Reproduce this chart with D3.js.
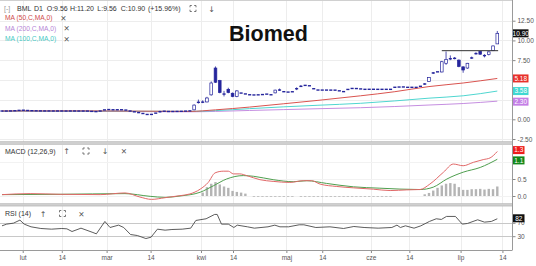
<!DOCTYPE html>
<html><head><meta charset="utf-8">
<script src="https://cdn.jsdelivr.net/npm/d3@7"></script>
<style>
html,body{margin:0;padding:0;background:#fff;overflow:hidden;}
svg{display:block;font-family:"Liberation Sans",Arial,sans-serif;}
</style></head><body>
<svg id="c" width="536" height="266"></svg>
<script>
// ---------------- DATA ----------------
const ticker = "BML", interval = "D1";
const title = "Biomed";
const changePct = "+15.96%";
const open = [
1.05,1.05,1.05,1.07,1.10,1.17,1.13,1.10,1.08,1.07,
1.06,1.06,1.06,1.05,1.06,1.05,1.05,1.06,1.05,1.05,
1.05,1.04,0.97,0.98,1.12,1.27,1.20,1.22,1.20,1.22,
1.10,1.00,0.90,0.80,0.67,0.56,0.70,0.88,1.05,1.00,
0.98,1.00,1.00,1.02,1.05,1.20,2.10,2.20,2.20,3.10,
6.50,4.90,3.10,3.80,3.30,2.90,3.35,3.28,3.12,3.05,
3.10,3.12,3.18,3.12,3.35,3.70,3.55,3.45,3.48,3.75,
4.15,4.35,4.30,3.90,3.72,3.70,3.71,3.70,3.70,3.62,
3.52,3.75,3.90,3.90,3.85,3.80,3.80,3.81,3.80,3.80,
3.80,3.80,4.00,4.10,4.10,4.05,4.06,4.05,4.15,4.40,
4.80,5.80,6.05,6.00,7.10,7.60,7.75,7.50,6.65,6.50,
7.70,8.25,8.60,8.20,8.20,8.70,9.56];
const high = [
1.06,1.06,1.08,1.12,1.18,1.18,1.14,1.11,1.09,1.08,
1.07,1.07,1.07,1.07,1.07,1.06,1.07,1.07,1.06,1.06,
1.06,1.05,1.00,1.15,1.30,1.29,1.24,1.24,1.25,1.23,
1.12,1.02,0.92,0.82,0.70,0.70,0.88,1.08,1.06,1.02,
1.02,1.02,1.04,1.06,1.10,1.90,2.50,2.40,2.85,4.80,
6.70,5.00,3.60,4.00,3.40,3.70,3.40,3.30,3.15,3.15,
3.20,3.18,3.22,3.15,3.75,3.90,3.60,3.50,3.52,4.05,
4.35,4.40,4.32,3.92,3.75,3.74,3.73,3.72,3.72,3.65,
3.55,3.85,3.95,3.95,3.88,3.83,3.83,3.83,3.82,3.82,
3.82,3.82,4.15,4.12,4.13,4.08,4.08,4.08,4.25,4.60,
5.35,6.00,6.10,7.40,8.60,8.10,7.90,7.60,6.70,7.15,
7.95,8.50,8.65,8.25,8.60,9.35,11.20];
const low = [
1.04,1.04,1.04,1.06,1.09,1.12,1.09,1.07,1.06,1.05,
1.05,1.05,1.04,1.04,1.04,1.04,1.04,1.04,1.04,1.04,
1.03,0.96,0.94,0.98,1.11,1.18,1.17,1.18,1.19,1.10,
0.98,0.88,0.78,0.65,0.52,0.55,0.68,0.86,0.98,0.96,
0.97,0.98,0.99,1.00,1.03,1.15,2.00,2.05,2.15,3.00,
4.60,3.30,2.90,3.30,2.80,2.80,3.25,3.10,3.05,3.02,
3.05,3.10,3.15,3.05,3.30,3.60,3.40,3.40,3.45,3.70,
4.10,4.20,4.15,3.80,3.65,3.68,3.67,3.67,3.66,3.58,
3.48,3.72,3.85,3.86,3.82,3.77,3.77,3.78,3.77,3.77,
3.77,3.77,3.98,4.05,4.07,4.02,4.02,4.02,4.12,4.35,
4.75,5.75,5.90,5.95,6.90,7.50,7.60,6.60,5.90,6.40,
7.65,8.20,8.20,7.85,8.10,8.65,9.56];
const close = [
1.05,1.05,1.07,1.10,1.16,1.13,1.10,1.08,1.07,1.06,
1.06,1.06,1.05,1.06,1.05,1.05,1.06,1.05,1.05,1.05,
1.04,0.97,0.98,1.12,1.26,1.20,1.22,1.20,1.22,1.12,
1.00,0.90,0.80,0.67,0.56,0.68,0.86,1.05,1.00,0.98,
1.00,1.00,1.02,1.05,1.08,1.80,2.20,2.15,2.70,4.60,
4.70,3.40,3.30,3.40,2.90,3.60,3.30,3.15,3.10,3.12,
3.10,3.15,3.20,3.10,3.70,3.72,3.45,3.45,3.50,4.00,
4.20,4.25,4.20,3.85,3.70,3.71,3.70,3.70,3.69,3.60,
3.50,3.82,3.92,3.90,3.85,3.80,3.81,3.80,3.80,3.80,
3.80,3.80,4.12,4.08,4.10,4.06,4.05,4.05,4.22,4.55,
5.30,5.95,5.98,7.30,7.60,7.75,7.70,6.70,6.25,7.10,
7.85,8.40,8.25,7.95,8.55,9.30,10.90];

// moving averages read at sample bars [barIndex, value]
const ma50  = [[0,1.06],[20,1.07],[44,1.00],[50,1.20],[58,1.55],[66,1.97],[74,2.40],[84,2.98],[92,3.50],[100,4.15],[108,4.60],[116,5.18]];
const ma100 = [[0,1.04],[20,1.04],[44,1.00],[50,1.10],[58,1.35],[66,1.58],[74,1.78],[84,2.03],[92,2.33],[100,2.68],[108,2.98],[116,3.58]];
const ma200 = [[0,1.00],[20,1.00],[44,0.95],[50,1.00],[58,1.12],[66,1.23],[74,1.34],[84,1.47],[92,1.62],[100,1.81],[108,2.00],[116,2.30]];
const trendLevel = 8.70, trendFrom = 103, trendTo = 116.2;

// MACD (12,26,9)
const macdLine = [[0,0.04],[6.6,0.07],[13.6,0.05],[23,0.04],[28.8,0.09],[32.3,-0.03],[35,-0.10],[38.2,-0.05],[41.7,0.01],[44,0.06],[46.4,0.20],[48.3,0.40],[49.9,0.68],[51.8,0.73],[53,0.73],[54.2,0.65],[55.7,0.65],[57.3,0.60],[60.4,0.48],[63.5,0.43],[67.4,0.40],[70.6,0.45],[72.5,0.45],[74.5,0.35],[78.4,0.28],[82.3,0.24],[87,0.20],[90.9,0.16],[94.8,0.18],[97.9,0.19],[100.2,0.35],[103.4,0.70],[105.7,0.94],[108,0.89],[110.4,0.99],[112.7,1.07],[114.3,1.12],[116,1.31]];
const signalLine = [[0,0.04],[13.6,0.05],[28.8,0.07],[34.7,-0.01],[38.2,-0.04],[41.7,0.00],[46.4,0.11],[49.5,0.30],[52.6,0.50],[56.5,0.60],[58.9,0.58],[63.5,0.48],[68.2,0.42],[71.4,0.45],[76,0.37],[82.3,0.27],[88.5,0.23],[97.9,0.19],[101,0.26],[104.2,0.50],[108,0.70],[112,0.84],[116,1.08]];
const histogram = [
0,0,0,0,0,0,0,0,0,0, 0,0,0,0,0,0,0,0,0,0,
0,0,0,0,0,0,0,0,0,0, 0,0,0,0,0,0,0,0,0,0,
0,0,0,0,0,0,0,0.10,0.26,0.36,
0.41,0.34,0.28,0.24,0.15,0.12,0.10,0.07,0,-0.025,
-0.025,-0.025,-0.025,-0.025,-0.025,-0.025,-0.025,-0.025,-0.025,0,
-0.025,-0.025,-0.025,-0.025,-0.025,-0.025,-0.025,-0.025,-0.025,-0.025,
-0.025,-0.025,-0.025,-0.025,-0.025,-0.025,-0.025,-0.025,-0.025,-0.025,
-0.025,-0.025,0,0,0,0,0,0,0,0.05,
0.09,0.16,0.24,0.31,0.36,0.38,0.36,0.26,0.18,0.18,
0.20,0.20,0.21,0.19,0.21,0.20,0.28];
const macdLast = 1.3, signalLast = 1.1;

// RSI (14)
const rsi = [[0,61],[1.1,66],[2.7,69],[4.2,78],[5.2,66],[6.8,58],[9.1,53],[11.6,51],[14,53],[15.2,52],[16.4,44],[18.5,54],[21.3,41],[22.1,37],[24.1,74],[25.3,56],[27.3,63],[28.5,56],[30.1,35],[31.7,32],[33.7,23],[34.9,27],[36.4,51],[38.2,48],[39.8,50],[42.2,51],[44.2,54],[45.4,77],[47.8,82],[49.8,95],[50.4,95],[51.4,66],[53,66],[54.3,56],[55.1,63],[57.5,58],[59.1,54],[62.3,58],[63.9,63],[65.1,58],[67.1,58],[69.6,64],[70.7,64],[73.5,56],[76.8,58],[80,53],[82.4,59],[84.8,56],[88.1,54],[91.3,56],[92.5,63],[93.3,56],[94.5,61],[96.5,54],[98.1,61],[100.1,74],[101.7,82],[102.9,80],[104.1,89],[106.2,89],[107.8,66],[109,68],[111.4,79],[113,72],[114.6,74],[116,82]];
const rsiLast = 82;

// axes (labels that the value boxes cover in the reference are listed without text)
const priceTicks = [-2.5,0,2.5,5,7.5,10,12.5];
const priceTickLabels = ["-2.50","0.00","","","7.50","10.00","12.50"];
const macdTicks = [0,0.5,1.0];
const macdTickLabels = ["0.0","0.5",""];
const rsiTicks = [30,70];
const rsiTickLabels = ["30","70"];
const dateTickBars = [4.85,14,24.5,34.8,46.6,54.1,66.6,75,86.4,95.4,107.4,117.2];
const dateTickLabels = ["lut","14","mar","14","kwi","14","maj","14","cze","14","lip","14"];
const maLabels = ["MA (50,C,MA,0)","MA (200,C,MA,0)","MA (100,C,MA,0)"];
const maLast = [5.18,2.30,3.58];

// ---------------- DRAW ----------------
const svg = d3.select('#c');
const AX = 512.5;
const P1 = [0,141.5], P2 = [144.5,203.5], P3 = [206,250];
const x = d3.scaleLinear().domain([0,116]).range([2,497.3]);
const yP = d3.scaleLinear().domain([0,12.5]).range([119.3,20.7]);
const yM = d3.scaleLinear().domain([0,0.5]).range([196,179]);
const yR = d3.scaleLinear().domain([30,70]).range([236.2,222.8]);
const navy = '#25259c';
const colMA50 = '#d9534f', colMA100 = '#4fd6d0', colMA200 = '#c58ee0';

const defs = svg.append('defs');
[['c1',P1],['c2',P2],['c3',P3]].forEach(([id,p])=>{
  defs.append('clipPath').attr('id',id).append('rect').attr('x',0).attr('y',p[0]).attr('width',AX).attr('height',p[1]-p[0]);
});

// grid
const grid = svg.append('g').attr('stroke','#ededed').attr('stroke-width',1).attr('shape-rendering','crispEdges');
[P1,P2,P3].forEach(p=>{
  dateTickBars.forEach(b=>{
    grid.append('line').attr('x1',Math.round(x(b))+0.5).attr('x2',Math.round(x(b))+0.5).attr('y1',p[0]).attr('y2',p[1]);
  });
});
priceTicks.forEach(t=>grid.append('line').attr('x1',0).attr('x2',AX).attr('y1',Math.round(yP(t))+0.5).attr('y2',Math.round(yP(t))+0.5));
macdTicks.forEach(t=>grid.append('line').attr('x1',0).attr('x2',AX).attr('y1',Math.round(yM(t))+0.5).attr('y2',Math.round(yM(t))+0.5).attr('stroke','#f2f2f2'));
rsiTicks.forEach(t=>grid.append('line').attr('x1',0).attr('x2',AX).attr('y1',Math.round(yR(t))+0.5).attr('y2',Math.round(yR(t))+0.5).attr('stroke','#c8c8c8'));

svg.append('line').attr('x1',0).attr('x2',AX).attr('y1',0.5).attr('y2',0.5).attr('stroke','#d0d0d0');

// ---- main panel ----
const gMain = svg.append('g').attr('clip-path','url(#c1)');
const lineP = d3.line().x(d=>x(d[0])).y(d=>yP(d[1])).curve(d3.curveMonotoneX);
[[ma200,colMA200],[ma100,colMA100],[ma50,colMA50]].forEach(([d,c])=>{
  gMain.append('path').datum(d).attr('d',lineP).attr('fill','none').attr('stroke',c).attr('stroke-width',1);
});

const bars = d3.range(open.length);
const bw = 2.7;
const bodyH = i => yP(Math.min(open[i],close[i])) - yP(Math.max(open[i],close[i]));
const cg = gMain.append('g');
cg.selectAll('line').data(bars.filter(i=>yP(low[i])-yP(high[i])>1.6)).join('line')
  .attr('x1',i=>x(i)).attr('x2',i=>x(i))
  .attr('y1',i=>yP(high[i])).attr('y2',i=>yP(low[i]))
  .attr('stroke',navy).attr('stroke-width',0.8);
// small bodies: plain dashes
cg.selectAll('rect.s').data(bars.filter(i=>bodyH(i)<2)).join('rect').attr('class','s')
  .attr('x',i=>x(i)-bw/2-0.2).attr('width',bw+0.4)
  .attr('y',i=>(yP(open[i])+yP(close[i]))/2-0.7).attr('height',1.4)
  .attr('fill',navy);
// larger bodies
cg.selectAll('rect.b').data(bars.filter(i=>bodyH(i)>=2)).join('rect').attr('class','b')
  .attr('x',i=>x(i)-bw/2).attr('width',bw)
  .attr('y',i=>yP(Math.max(open[i],close[i]))).attr('height',i=>bodyH(i))
  .attr('fill',i=>close[i]>=open[i]?'#fff':navy)
  .attr('stroke',navy).attr('stroke-width',0.7);

gMain.append('line').attr('x1',x(trendFrom)).attr('x2',x(trendTo)).attr('y1',yP(trendLevel)).attr('y2',yP(trendLevel))
  .attr('stroke','#333').attr('stroke-width',1);

// title
svg.append('text').attr('x',268.5).attr('y',40.5).attr('text-anchor','middle')
  .attr('font-size',21.5).attr('font-weight','bold').attr('fill','#111').text(title);

// header legend
const hdr = svg.append('g').attr('font-size',7).attr('fill','#333');
hdr.append('text').attr('x',4).attr('y',11).attr('fill','#999').text('[-]');
const last = open.length-1;
const hdrTokens = [[17,ticker],[34,interval],[46.7,'O:'+open[last].toFixed(2)],[70,'H:'+high[last].toFixed(2)],[97.3,'L:'+low[last].toFixed(2)],[120.7,'C:'+close[last].toFixed(2)],[148,'('+changePct+')']];
hdrTokens.forEach(([px,t])=>hdr.append('text').attr('x',px).attr('y',11).text(t));

function expandIcon(cx,cy,c){
  const s=3,l=1.8;
  const p=`M${cx-s},${cy-s+l}V${cy-s}H${cx-s+l}M${cx+s-l},${cy-s}H${cx+s}V${cy-s+l}M${cx+s},${cy+s-l}V${cy+s}H${cx+s-l}M${cx-s+l},${cy+s}H${cx-s}V${cy+s-l}`;
  svg.append('path').attr('d',p).attr('fill','none').attr('stroke',c||'#666').attr('stroke-width',0.9);
}
function sym(px,py,t,size){
  svg.append('text').attr('x',px).attr('y',py).attr('text-anchor','middle').attr('font-family','DejaVu Sans')
    .attr('font-size',size||8).attr('fill','#555').text(t);
}
expandIcon(193,8.5);
sym(211.7,11.5,'↓');

const maTxtCols = ['#cf4a4a','#b685d6','#45c9c4'];
maLabels.forEach((t,k)=>{
  const yy = 20.3 + k*10.4;
  svg.append('text').attr('x',5).attr('y',yy).attr('font-size',6.7).attr('fill',maTxtCols[k]).text(t);
  sym(k===0?63.3:66.7, yy+0.5,'✕',7.5);
});

// ---- MACD panel ----
const gM = svg.append('g').attr('clip-path','url(#c2)');
gM.selectAll('rect').data(bars.filter(i=>histogram[i]!==0)).join('rect')
  .attr('x',i=>x(i)-1.2).attr('width',2.4)
  .attr('y',i=>histogram[i]>0?yM(histogram[i]):yM(0))
  .attr('height',i=>Math.max(1,Math.abs(yM(histogram[i])-yM(0))))
  .attr('fill',i=>histogram[i]>0?'#b4b4b4':'#c4c4c4');
const lineM = d3.line().x(d=>x(d[0])).y(d=>yM(d[1])).curve(d3.curveMonotoneX);
gM.append('path').datum(signalLine).attr('d',lineM).attr('fill','none').attr('stroke','#4e9e4e').attr('stroke-width',1);
gM.append('path').datum(macdLine).attr('d',lineM).attr('fill','none').attr('stroke','#e06868').attr('stroke-width',1);

svg.append('text').attr('x',5).attr('y',153.5).attr('font-size',7).attr('fill','#333').text('MACD (12,26,9)');
sym(66.7,154,'↑'); expandIcon(86,151); sym(105,154,'↓'); sym(124,154,'✕',7.5);

// ---- RSI panel ----
const gR = svg.append('g').attr('clip-path','url(#c3)');
const lineR = d3.line().x(d=>x(d[0])).y(d=>yR(d[1]));
gR.append('path').datum(rsi).attr('d',lineR).attr('fill','none').attr('stroke','#4a4a4a').attr('stroke-width',0.9);
svg.append('text').attr('x',5).attr('y',216).attr('font-size',7).attr('fill','#333').text('RSI (14)');
sym(43,216.5,'↑'); expandIcon(62.5,213.5); sym(81.4,216.5,'✕',7.5);

// ---- separators ----
[[141.5,3],[203.5,2.7]].forEach(([yy,h])=>{
  svg.append('rect').attr('x',0).attr('y',yy).attr('width',AX).attr('height',h).attr('fill','#d6d6d6');
  svg.append('line').attr('x1',0).attr('x2',AX).attr('y1',yy+0.25).attr('y2',yy+0.25).attr('stroke','#a8a8a8').attr('stroke-width',0.6);
  svg.append('line').attr('x1',0).attr('x2',AX).attr('y1',yy+h-0.25).attr('y2',yy+h-0.25).attr('stroke','#a8a8a8').attr('stroke-width',0.6);
});

// ---- right axes ----
function rightAxis(scale,ticks,labels){
  const g = svg.append('g').attr('transform',`translate(${AX},0)`)
    .call(d3.axisRight(scale).tickValues(ticks).tickSize(3).tickPadding(2).tickFormat((d,i)=>labels[i]));
  g.select('.domain').remove();
  g.selectAll('line').attr('stroke','#888');
  g.selectAll('text').attr('font-size',6.5).attr('fill','#555').attr('font-family','"Liberation Sans",Arial,sans-serif');
}
rightAxis(yP,priceTicks,priceTickLabels);
rightAxis(yM,macdTicks,macdTickLabels);
rightAxis(yR,rsiTicks,rsiTickLabels);
svg.append('line').attr('x1',AX).attr('x2',AX).attr('y1',0).attr('y2',P3[1]).attr('stroke','#9a9a9a').attr('stroke-width',1);

function valBox(cy,txt,bg,fg){
  const w = txt.length>3?15.5:11.5;
  svg.append('rect').attr('x',AX+0.5).attr('y',cy-4).attr('width',w).attr('height',8).attr('fill',bg);
  svg.append('text').attr('x',AX+0.5+w/2).attr('y',cy+2.3).attr('text-anchor','middle').attr('font-size',6.5).attr('fill',fg).text(txt);
}
valBox(yP(close[last]),close[last].toFixed(2),'#111','#fff');
valBox(yP(maLast[0]),maLast[0].toFixed(2),'#e8302a','#fff');
valBox(yP(maLast[2]),maLast[2].toFixed(2),'#3fd8d2','#fff');
valBox(yP(maLast[1])+0.5,maLast[1].toFixed(2),'#c47fe6','#fff');
valBox(Math.min(yM(macdLast),yM(signalLast)-8.5),macdLast.toFixed(1),'#ee1c1c','#fff');
valBox(yM(signalLast)+1.8,signalLast.toFixed(1),'#13881a','#fff');
valBox(yR(rsiLast)-0.5,String(rsiLast),'#111','#fff');

// ---- bottom axis ----
const gx = svg.append('g').attr('transform',`translate(0,${P3[1]})`)
  .call(d3.axisBottom(x).tickValues(dateTickBars).tickSize(3).tickPadding(2.5).tickFormat((d,i)=>dateTickLabels[i]));
gx.select('.domain').remove();
gx.selectAll('line').attr('stroke','#888');
gx.selectAll('text').attr('font-size',6.5).attr('fill','#555').attr('font-family','"Liberation Sans",Arial,sans-serif');
svg.append('line').attr('x1',0).attr('x2',AX).attr('y1',P3[1]+0.5).attr('y2',P3[1]+0.5).attr('stroke','#9a9a9a');
</script></body></html>
